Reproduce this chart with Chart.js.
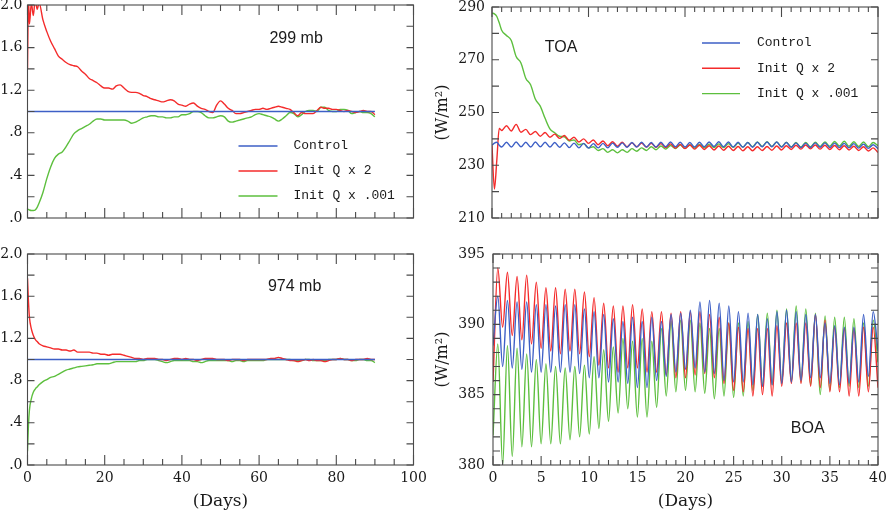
<!DOCTYPE html>
<html><head><meta charset="utf-8">
<script src="https://cdn.jsdelivr.net/npm/chart.js@4.4.1/dist/chart.umd.min.js"></script>
<style>
html,body{margin:0;padding:0;background:#fff;width:887px;height:513px;overflow:hidden;}
canvas{position:absolute;}
</style></head><body>
<canvas id="c1" width="440" height="235" style="left:0px;top:0px"></canvas>
<canvas id="c2" width="440" height="278" style="left:0px;top:235px"></canvas>
<canvas id="c3" width="455" height="235" style="left:432px;top:0px"></canvas>
<canvas id="c4" width="455" height="278" style="left:432px;top:235px"></canvas>
<script>
// ---------- legend labels ----------
const seriesNames = ['Control', 'Init Q x 2', 'Init Q x .001'];

// ---------- tick labels ----------
const ratioTickLabels = ['.0', '.4', '.8', '1.2', '1.6', '2.0'];
const leftDayLabels = ['0', '20', '40', '60', '80', '100'];
const toaTickLabels = ['210', '230', '250', '270', '290'];
const boaTickLabels = ['380', '385', '390', '395'];
const rightDayLabels = ['0', '5', '10', '15', '20', '25', '30', '35', '40'];

// ---------- left panels (ratio to control) ----------
const leftDays = [0, 0.25, 0.5, 1, 1.5, 2, 2.5, 3,
  4, 5, 6, 7, 8, 9, 10, 11, 12, 13,
  14, 15, 16, 17, 18, 19, 20, 21, 22, 23,
  24, 25, 26, 27, 28, 29, 30, 31, 32, 33,
  34, 35, 36, 37, 38, 39, 40, 41, 42, 43,
  44, 45, 46, 47, 48, 49, 50, 51, 52, 53,
  54, 55, 56, 57, 58, 59, 60, 61, 62, 63,
  64, 65, 66, 67, 68, 69, 70, 71, 72, 73,
  74, 75, 76, 77, 78, 79, 80, 81, 82, 83,
  84, 85, 86, 87, 88, 89, 90];
const ctrlDays = [0, 90];
const ctrl299 = [1.0, 1.0];
const ctrl974 = [1.0, 1.0];

const x2_299 = [1.40, 2.05, 1.82, 2.02, 1.90, 2.05, 1.96, 2.02,
  1.86, 1.75, 1.66, 1.59, 1.52, 1.49, 1.46, 1.44, 1.43, 1.42,
  1.38, 1.35, 1.31, 1.29, 1.27, 1.24, 1.22, 1.22, 1.21, 1.24,
  1.25, 1.22, 1.19, 1.18, 1.18, 1.17, 1.15, 1.14, 1.12, 1.11,
  1.10, 1.09, 1.10, 1.11, 1.10, 1.07, 1.06, 1.05, 1.07, 1.08,
  1.05, 1.03, 1.02, 1.00, 0.99, 1.06, 1.10, 1.07, 1.03, 1.01,
  0.98, 0.98, 0.99, 1.00, 1.01, 1.02, 1.02, 1.03, 1.02, 1.03,
  1.04, 1.05, 1.04, 1.03, 1.02, 0.99, 0.96, 0.99, 0.98, 0.98,
  0.98, 1.01, 1.04, 1.03, 1.03, 1.02, 1.02, 1.01, 1.00, 1.01,
  1.00, 0.99, 1.00, 1.01, 1.00, 1.00, 0.97];
const x001_299 = [0.08, 0.08, 0.075, 0.07, 0.07, 0.075, 0.10, 0.14,
  0.24, 0.37, 0.48, 0.56, 0.60, 0.62, 0.67, 0.73, 0.79, 0.82,
  0.84, 0.86, 0.88, 0.91, 0.93, 0.93, 0.92, 0.92, 0.92, 0.92,
  0.92, 0.92, 0.91, 0.89, 0.90, 0.92, 0.94, 0.95, 0.96, 0.96,
  0.95, 0.95, 0.94, 0.94, 0.95, 0.95, 0.97, 0.97, 0.98, 1.00,
  1.00, 0.99, 0.96, 0.94, 0.94, 0.95, 0.96, 0.95, 0.91, 0.90,
  0.91, 0.92, 0.93, 0.94, 0.95, 0.97, 0.98, 0.97, 0.96, 0.95,
  0.93, 0.91, 0.93, 0.96, 0.99, 0.98, 0.95, 0.97, 1.00, 1.01,
  1.01, 1.00, 1.04, 1.04, 1.01, 1.00, 1.00, 1.02, 1.02, 1.01,
  0.98, 0.99, 1.00, 0.99, 0.99, 0.98, 0.95];

const x2_974 = [1.77, 1.55, 1.40, 1.29, 1.23, 1.19, 1.17, 1.15,
  1.13, 1.12, 1.11, 1.10, 1.10, 1.09, 1.09, 1.08, 1.09, 1.07,
  1.07, 1.07, 1.07, 1.06, 1.06, 1.05, 1.05, 1.04, 1.05, 1.05,
  1.05, 1.04, 1.03, 1.02, 1.01, 1.01, 1.00, 1.01, 1.01, 1.01,
  1.00, 1.00, 0.99, 1.00, 1.01, 1.01, 1.00, 1.01, 1.00, 1.00,
  0.99, 1.00, 1.01, 1.01, 1.01, 1.00, 1.00, 1.00, 0.99, 1.00,
  1.00, 1.00, 0.99, 1.00, 1.00, 1.00, 1.00, 1.00, 1.00, 1.01,
  1.01, 1.02, 1.01, 1.00, 0.99, 0.99, 0.98, 0.99, 1.00, 0.99,
  1.00, 0.99, 0.99, 0.98, 0.99, 1.00, 1.00, 1.01, 1.00, 1.00,
  0.99, 1.00, 1.00, 1.00, 1.01, 1.00, 1.00];
const x001_974 = [0.13, 0.38, 0.52, 0.63, 0.69, 0.72, 0.74, 0.76,
  0.79, 0.81, 0.83, 0.84, 0.86, 0.88, 0.90, 0.91, 0.92, 0.93,
  0.935, 0.94, 0.945, 0.95, 0.96, 0.96, 0.96, 0.96, 0.97, 0.98,
  0.98, 0.98, 0.98, 0.98, 0.98, 0.99, 0.99, 1.00, 1.00, 1.00,
  0.99, 0.98, 0.97, 0.98, 0.99, 0.99, 0.99, 0.99, 0.99, 0.98,
  0.98, 0.97, 0.98, 0.99, 0.99, 0.99, 0.99, 0.99, 0.99, 0.98,
  0.99, 0.99, 0.98, 0.99, 0.99, 0.99, 0.99, 0.99, 1.00, 1.00,
  1.00, 1.00, 1.00, 1.00, 1.00, 0.99, 0.99, 0.99, 1.00, 1.00,
  0.99, 0.99, 0.99, 0.99, 1.00, 1.00, 1.00, 1.01, 1.00, 1.00,
  0.99, 0.99, 1.00, 1.00, 0.99, 0.99, 0.97];

// ---------- TOA (W/m2) ----------
const toaDays = [0, 0.25, 0.5, 0.75,
  1, 1.5, 2, 2.5, 3, 3.5, 4, 4.5, 5, 5.5,
  6, 6.5, 7, 7.5, 8, 8.5, 9, 9.5, 10, 10.5,
  11, 11.5, 12, 12.5, 13, 13.5, 14, 14.5, 15, 15.5,
  16, 16.5, 17, 17.5, 18, 18.5, 19, 19.5, 20, 20.5,
  21, 21.5, 22, 22.5, 23, 23.5, 24, 24.5, 25, 25.5,
  26, 26.5, 27, 27.5, 28, 28.5, 29, 29.5, 30, 30.5,
  31, 31.5, 32, 32.5, 33, 33.5, 34, 34.5, 35, 35.5,
  36, 36.5, 37, 37.5, 38, 38.5, 39, 39.5, 40];
const toaControl = [237.6, 238.4, 238.7, 237.6,
  236.9, 238.7, 236.9, 238.8, 237.0, 238.7, 236.9, 238.8, 237.0, 238.7,
  236.9, 238.6, 236.8, 238.5, 236.7, 238.4, 236.6, 238.3, 236.5, 238.2,
  236.6, 238.3, 236.6, 238.4, 236.8, 238.5, 236.8, 238.6, 236.9, 238.7,
  236.9, 238.6, 236.9, 238.7, 237.0, 238.8, 237.0, 238.7, 236.9, 238.6,
  236.9, 238.7, 237.0, 238.8, 237.1, 238.9, 237.0, 238.8, 236.9, 238.7,
  236.8, 238.6, 236.8, 238.7, 237.0, 238.8, 237.0, 238.8, 236.9, 238.6,
  236.8, 238.5, 236.7, 238.4, 236.7, 238.5, 236.8, 238.5, 236.7, 238.4,
  236.7, 238.3, 236.6, 238.2, 236.5, 238.0, 236.4, 237.8, 236.3];
const toaX2 = [237.5, 221.0, 232.0, 244.0,
  243.2, 245.0, 243.0, 245.5, 242.5, 243.6, 241.6, 242.8, 241.0, 242.4,
  240.6, 241.8, 240.2, 241.3, 239.5, 240.6, 238.8, 240.0, 238.3, 239.6,
  237.8, 239.2, 237.4, 238.9, 237.2, 238.7, 237.0, 238.5, 237.0, 238.4,
  236.9, 238.3, 236.8, 238.2, 236.7, 238.1, 236.5, 237.9, 236.3, 237.7,
  236.1, 237.6, 236.0, 237.4, 235.8, 237.3, 235.7, 237.2, 235.6, 237.1,
  235.5, 237.0, 235.5, 237.0, 235.6, 237.1, 235.7, 237.3, 235.8, 237.4,
  236.0, 237.6, 236.1, 237.7, 236.2, 237.7, 236.1, 237.6, 236.0, 237.5,
  235.9, 237.4, 235.8, 237.2, 235.6, 237.0, 235.4, 236.6, 234.8];
const toaX001 = [287.7, 287.4, 286.4, 284.0,
  281.2, 279.2, 277.3, 271.2, 268.8, 263.0, 260.5, 255.0, 252.4, 247.8,
  243.8, 242.3, 241.0, 240.8, 239.2, 239.6, 237.8, 238.2, 236.6, 237.0,
  235.6, 236.3, 234.9, 235.9, 234.7, 235.9, 234.9, 236.3, 235.3, 236.6,
  235.6, 237.0, 235.9, 237.3, 236.1, 237.5, 236.3, 237.7, 236.4, 237.8,
  236.5, 237.9, 236.6, 238.0, 236.7, 238.1, 236.7, 238.2, 236.8, 238.4,
  236.9, 238.6, 237.0, 238.8, 237.1, 238.9, 237.1, 238.8, 237.0, 238.7,
  236.9, 238.6, 236.9, 238.6, 237.0, 238.7, 237.1, 238.8, 237.2, 239.0,
  237.3, 239.1, 237.2, 238.9, 237.1, 238.8, 237.0, 238.6, 237.4];

// ---------- BOA (W/m2) ----------
const boaDays = [0, 0.5, 1, 1.5, 2, 2.5, 3, 3.5, 4, 4.5,
  5, 5.5, 6, 6.5, 7, 7.5, 8, 8.5, 9, 9.5,
  10, 10.5, 11, 11.5, 12, 12.5, 13, 13.5, 14, 14.5,
  15, 15.5, 16, 16.5, 17, 17.5, 18, 18.5, 19, 19.5,
  20, 20.5, 21, 21.5, 22, 22.5, 23, 23.5, 24, 24.5,
  25, 25.5, 26, 26.5, 27, 27.5, 28, 28.5, 29, 29.5,
  30, 30.5, 31, 31.5, 32, 32.5, 33, 33.5, 34, 34.5,
  35, 35.5, 36, 36.5, 37, 37.5, 38, 38.5, 39, 39.5,
  40];
const boaControl = [388.5, 392.0, 387.0, 391.7, 386.9, 391.6, 386.8, 391.6, 386.6, 391.4,
  386.6, 391.4, 386.6, 391.3, 386.6, 391.4, 386.6, 391.4, 386.5, 391.1,
  386.2, 390.9, 386.2, 390.7, 385.9, 390.4, 385.9, 390.2, 385.8, 390.5,
  385.5, 390.2, 385.5, 390.5, 386.0, 390.2, 386.3, 390.7, 386.6, 390.8,
  386.8, 391.0, 386.9, 391.6, 386.6, 391.7, 386.5, 391.5, 386.0, 391.3,
  385.9, 390.9, 385.9, 390.8, 385.7, 390.7, 385.6, 390.4, 385.7, 390.9,
  385.8, 391.0, 385.9, 390.9, 386.0, 390.7, 386.2, 390.7, 386.2, 390.1,
  385.8, 389.9, 385.7, 389.8, 385.8, 389.8, 385.9, 390.7, 386.3, 390.9,
  388.1];
const boaX2 = [385.9, 394.0, 389.8, 393.7, 389.2, 393.4, 388.9, 393.5, 388.6, 393.0,
  388.3, 392.6, 388.1, 392.6, 387.9, 392.5, 388.1, 392.5, 387.9, 392.3,
  387.7, 391.9, 387.1, 391.5, 386.9, 391.3, 386.6, 391.3, 386.9, 391.4,
  386.9, 391.1, 386.6, 390.9, 386.6, 390.9, 386.4, 390.8, 386.2, 390.9,
  386.2, 390.9, 386.4, 390.9, 386.5, 390.7, 386.2, 390.5, 385.8, 390.1,
  385.3, 389.8, 385.2, 389.7, 384.9, 389.7, 385.0, 389.7, 384.9, 389.9,
  385.6, 390.1, 385.8, 390.1, 385.8, 390.1, 385.6, 390.7, 385.5, 390.3,
  385.2, 389.8, 385.2, 389.7, 384.9, 389.7, 384.9, 389.8, 385.2, 389.8,
  385.5];
const boaX001 = [382.1, 388.6, 380.0, 388.5, 380.6, 388.3, 381.3, 387.9, 381.3, 387.5,
  381.5, 387.2, 381.5, 387.0, 381.5, 386.9, 381.8, 387.0, 382.0, 387.1,
  382.2, 387.7, 382.6, 388.2, 383.1, 388.4, 383.7, 389.0, 384.0, 388.8,
  383.4, 389.0, 383.4, 388.8, 384.1, 389.7, 384.9, 390.2, 385.2, 390.3,
  385.3, 390.3, 385.2, 390.1, 385.1, 389.7, 384.7, 389.7, 384.9, 390.1,
  384.8, 390.1, 384.9, 390.2, 385.3, 390.7, 385.6, 390.8, 385.7, 391.0,
  385.8, 391.1, 385.9, 391.3, 385.9, 391.1, 385.7, 390.8, 385.0, 390.6,
  385.3, 390.5, 385.5, 390.5, 385.6, 390.4, 385.5, 390.1, 385.6, 390.3,
  387.3];

// ---------- styling ----------
const COLORS = ['#3d5fc6', '#f42b2b', '#5dbf3e'];
const TEXT = '#1a1a1a';
const TICK_FONT = {family: 'DejaVu Serif', size: 14};

function pts(days, vals) { return vals.map((v, i) => ({x: days[i], y: v})); }
function labelAt(v, start, step, labels) {
  if (!labels) return '';
  const k = (v - start) / step, r = Math.round(k);
  return Math.abs(k - r) < 1e-6 && labels[r] !== undefined ? labels[r] : '';
}

const frameTicks = {
  id: 'frameTicks',
  afterDatasetsDraw(chart, args, o) {
    const {ctx, chartArea: a, scales: {x, y}} = chart;
    ctx.save();
    ctx.strokeStyle = '#4a4a4a';
    ctx.lineWidth = 1.1;
    ctx.beginPath();
    x.ticks.forEach(t => {
      const px = x.getPixelForValue(t.value);
      const k = t.value / o.xMajor;
      const len = Math.abs(k - Math.round(k)) < 1e-6 ? o.xMajorLen : o.xMinorLen;
      ctx.moveTo(px, a.bottom); ctx.lineTo(px, a.bottom - len);
      ctx.moveTo(px, a.top); ctx.lineTo(px, a.top + len);
    });
    y.ticks.forEach(t => {
      const py = y.getPixelForValue(t.value);
      ctx.moveTo(a.left, py); ctx.lineTo(a.left + o.yLen, py);
      ctx.moveTo(a.right, py); ctx.lineTo(a.right - o.yLen, py);
    });
    ctx.stroke();
    ctx.strokeRect(a.left, a.top, a.right - a.left, a.bottom - a.top);
    if (o.legend) {
      const L = o.legend;
      ctx.font = '13px "Liberation Mono", "DejaVu Sans Mono", monospace';
      ctx.textBaseline = 'middle';
      ctx.textAlign = 'left';
      chart.data.datasets.forEach((d, i) => {
        const yy = a.top + L.y + i * L.dy;
        ctx.strokeStyle = d.borderColor;
        ctx.lineWidth = 1.4;
        ctx.beginPath();
        ctx.moveTo(a.left + L.x, yy);
        ctx.lineTo(a.left + L.x + L.len, yy);
        ctx.stroke();
        ctx.fillStyle = TEXT;
        ctx.fillText(d.label, a.left + L.x + L.len + L.gap, yy);
      });
    }
    if (o.note) {
      ctx.font = '16px "Liberation Sans", Arial, sans-serif';
      ctx.fillStyle = TEXT;
      ctx.textAlign = 'center';
      ctx.textBaseline = 'middle';
      ctx.fillText(o.note.text, x.getPixelForValue(o.note.x), y.getPixelForValue(o.note.y));
    }
    ctx.restore();
  }
};

function makeChart(id, p) {
  const datasets = p.series.map((s, i) => ({
    label: seriesNames[i],
    data: pts(s[0], s[1]),
    borderColor: COLORS[i],
    backgroundColor: COLORS[i],
    borderWidth: 1.4,
    pointRadius: 0,
    fill: false,
    cubicInterpolationMode: 'monotone'
  }));
  return new Chart(document.getElementById(id), {
    type: 'line',
    data: {datasets},
    plugins: [frameTicks],
    options: {
      responsive: false,
      animation: false,
      events: [],
      layout: {padding: p.padding},
      plugins: {
        legend: {display: false},
        tooltip: {enabled: false},
        frameTicks: p.frame
      },
      scales: {
        x: {
          type: 'linear', min: p.xMin, max: p.xMax,
          grid: {display: false, drawTicks: false}, border: {display: false},
          ticks: {
            stepSize: p.xStep, autoSkip: false, maxRotation: 0, minRotation: 0,
            display: !!p.xLabels, padding: 5, color: TEXT, font: TICK_FONT, maxTicksLimit: 500,
            callback: v => labelAt(v, p.xMin, p.xLabelStep, p.xLabels)
          },
          title: {display: !!p.xTitle, text: p.xTitle || '', color: TEXT,
                  font: {family: 'DejaVu Serif', size: 17}, padding: {top: 0, bottom: 1}},
          afterFit: s => { s.height = p.xHeight; s.paddingLeft = 0; s.paddingRight = 0; }
        },
        y: {
          type: 'linear', min: p.yMin, max: p.yMax,
          grid: {display: false, drawTicks: false}, border: {display: false},
          ticks: {
            stepSize: p.yStep, autoSkip: false, padding: p.yPad, color: TEXT, font: TICK_FONT, maxTicksLimit: 500,
            callback: v => labelAt(v, p.yMin, p.yLabelStep, p.yLabels)
          },
          title: {display: !!p.yTitle, text: p.yTitle || '', color: TEXT,
                  font: {family: 'DejaVu Serif', size: 16}, padding: {top: 1, bottom: 0}},
          afterFit: s => { s.width = p.yWidth; s.paddingTop = 0; s.paddingBottom = 0; }
        }
      }
    }
  });
}

// Top-left: 299 mb
makeChart('c1', {
  series: [[ctrlDays, ctrl299], [leftDays, x2_299], [leftDays, x001_299]],
  padding: {left: 0, top: 5, right: 26.5, bottom: 0},
  xMin: 0, xMax: 100, xStep: 5, xLabels: null, xLabelStep: 20, xHeight: 17,
  yMin: 0, yMax: 2, yStep: 0.2, yLabels: ratioTickLabels, yLabelStep: 0.4, yWidth: 27.5, yPad: 5,
  frame: {xMajor: 20, xMajorLen: 10, xMinorLen: 6, yLen: 7,
          legend: {x: 211, y: 141, dy: 25, len: 39, gap: 16},
          note: {text: '299 mb', x: 69.6, y: 1.68}}
});

// Bottom-left: 974 mb
makeChart('c2', {
  series: [[ctrlDays, ctrl974], [leftDays, x2_974], [leftDays, x001_974]],
  padding: {left: 0, top: 19, right: 26.5, bottom: 0},
  xMin: 0, xMax: 100, xStep: 5, xLabels: leftDayLabels, xLabelStep: 20, xHeight: 48, xTitle: '(Days)',
  yMin: 0, yMax: 2, yStep: 0.2, yLabels: ratioTickLabels, yLabelStep: 0.4, yWidth: 27.5, yPad: 5,
  frame: {xMajor: 20, xMajorLen: 10, xMinorLen: 6, yLen: 7,
          note: {text: '974 mb', x: 69.2, y: 1.69}}
});

// Top-right: TOA
makeChart('c3', {
  series: [[toaDays, toaControl], [toaDays, toaX2], [toaDays, toaX001]],
  padding: {left: 0, top: 7, right: 9, bottom: 0},
  xMin: 0, xMax: 40, xStep: 1, xLabels: null, xLabelStep: 5, xHeight: 17,
  yMin: 210, yMax: 290, yStep: 10, yLabels: toaTickLabels, yLabelStep: 20, yWidth: 60, yPad: 7,
  yTitle: '(W/m\u00b2)',
  frame: {xMajor: 10, xMajorLen: 10, xMinorLen: 5, yLen: 7,
          legend: {x: 210, y: 36, dy: 25.3, len: 38, gap: 17},
          note: {text: 'TOA', x: 7.15, y: 274.5}}
});

// Bottom-right: BOA
makeChart('c4', {
  series: [[boaDays, boaControl], [boaDays, boaX2], [boaDays, boaX001]],
  padding: {left: 0, top: 19, right: 9, bottom: 0},
  xMin: 0, xMax: 40, xStep: 1, xLabels: rightDayLabels, xLabelStep: 5, xHeight: 48, xTitle: '(Days)',
  yMin: 380, yMax: 395, yStep: 1, yLabels: boaTickLabels, yLabelStep: 5, yWidth: 61, yPad: 8,
  yTitle: '(W/m\u00b2)',
  frame: {xMajor: 5, xMajorLen: 9, xMinorLen: 5, yLen: 7,
          note: {text: 'BOA', x: 32.7, y: 382.6}}
});
</script>
</body></html>
